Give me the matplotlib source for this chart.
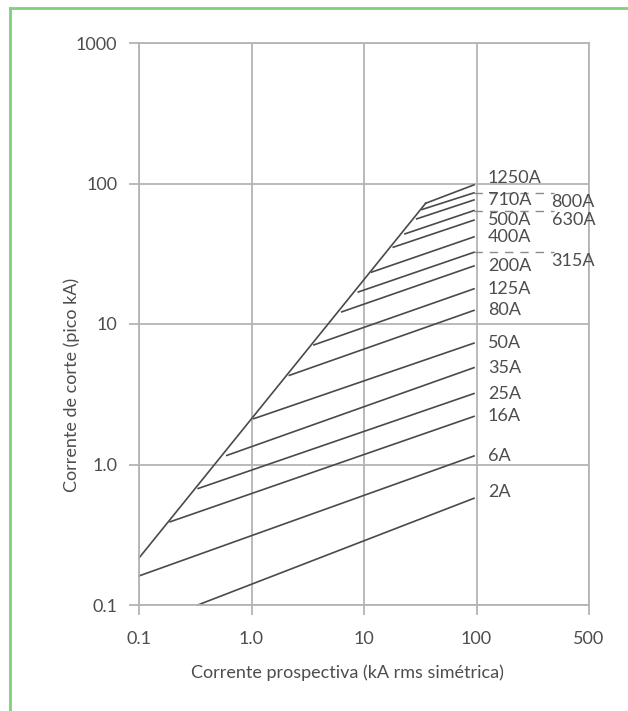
import matplotlib
matplotlib.use("Agg")
import matplotlib.pyplot as plt
from matplotlib.lines import Line2D

plt.rcParams['font.family'] = ['Lato', 'DejaVu Sans']

# fuse ratings, start point on the envelope and end point at the right
ratings = ["2A", "6A", "16A", "25A", "35A", "50A", "80A", "125A",
           "200A", "315A", "400A", "500A", "630A", "710A", "800A", "1250A"]
x_start = [0.333, 0.1, 0.189, 0.336, 0.603, 1.05, 2.17, 3.59,
           6.34, 8.90, 11.7, 18.2, 23.1, 29.4, 32.8, 35.3]
y_start = [0.1, 0.161, 0.391, 0.675, 1.16, 2.12, 4.31, 7.10,
           12.2, 16.9, 23.4, 35.2, 43.8, 56.0, 65.3, 72.3]
x_end = [95, 95, 95, 95, 95, 95, 95, 95,
         95, 95, 95, 95, 95, 95, 95, 95]
y_end = [0.575, 1.15, 2.20, 3.20, 4.89, 7.31, 12.5, 17.8,
         25.9, 32.4, 41.7, 54.9, 64.2, 76.4, 85.8, 97.8]

# cut-off envelope (peak of asymmetric current)
env_x = [0.1, 35.3]
env_y = [0.216, 72.3]

# labels put in the right column, linked with a dashed line
right_col = ["315A", "630A", "800A"]

x_ticks = [0.1, 1, 10, 100, 1000]
x_ticklabels = ["0.1", "1.0", "10", "100", "500"]
y_ticks = [0.1, 1, 10, 100, 1000]
y_ticklabels = ["0.1", "1.0", "10", "100", "1000"]

LINE = "#4a4a4a"
GRID = "#b4b4b4"
TEXT = "#4d4d4d"
FS = 13

fig = plt.figure(figsize=(6.28, 7.11), dpi=100)
ax = fig.add_axes([139 / 628, 1 - 605 / 711, 450 / 628, 562 / 711])

ax.set_xscale("log")
ax.set_yscale("log")
ax.set_xlim(0.1, 1000)
ax.set_ylim(0.1, 1000)

ax.grid(True, which="major", color=GRID, lw=1.3)
ax.minorticks_off()
for s in ax.spines.values():
    s.set_color(GRID)
    s.set_linewidth(1.3)

ax.set_xticks(x_ticks)
ax.set_xticklabels(x_ticklabels)
ax.set_yticks(y_ticks)
ax.set_yticklabels(y_ticklabels)
ax.tick_params(axis="both", direction="out", length=7.5, width=1.3,
               color=GRID, labelcolor=TEXT, labelsize=FS)
ax.tick_params(axis="x", pad=11)
ax.tick_params(axis="y", pad=8)

ax.plot(env_x, env_y, color=LINE, lw=1.2, clip_on=False)

# px -> pt at 100 dpi
pt = 0.72
for name, xs, ys, xe, ye in zip(ratings, x_start, y_start, x_end, y_end):
    ax.plot([xs, xe], [ys, ye], color=LINE, lw=1.2, clip_on=False)
    if name in right_col:
        ax.plot([xe, 490], [ye, ye], color="#8a8a8a", lw=1.0,
                dashes=(6, 5), clip_on=False)
        ax.annotate(name, xy=(465, ye), xytext=(0, -9 * pt),
                    textcoords="offset points", ha="left", va="center",
                    fontsize=FS, color=TEXT, annotation_clip=False)
    else:
        dy = 0
        if name == "1250A":
            dy = 7
        elif name == "2A":
            dy = 6
        ax.annotate(name, xy=(126, ye), xytext=(0, dy * pt),
                    textcoords="offset points", ha="left", va="center",
                    fontsize=FS, color=TEXT, annotation_clip=False)

ax.set_xlabel("Corrente prospectiva (kA rms simétrica)", fontsize=FS, color=TEXT)
ax.set_ylabel("Corrente de corte (pico kA)", fontsize=FS, color=TEXT)
ax.xaxis.set_label_coords(0.464, -0.105)
ax.yaxis.set_label_coords(-0.131, 0.391)

# green frame of the original picture (left and top edges)
green = "#7fcf7f"
fig.add_artist(Line2D([10 / 628, 10 / 628], [0, 1 - 8 / 711], color=green, lw=2))
fig.add_artist(Line2D([10 / 628, 1], [1 - 8 / 711, 1 - 8 / 711], color=green, lw=2))

plt.savefig("out.png", dpi=100)
